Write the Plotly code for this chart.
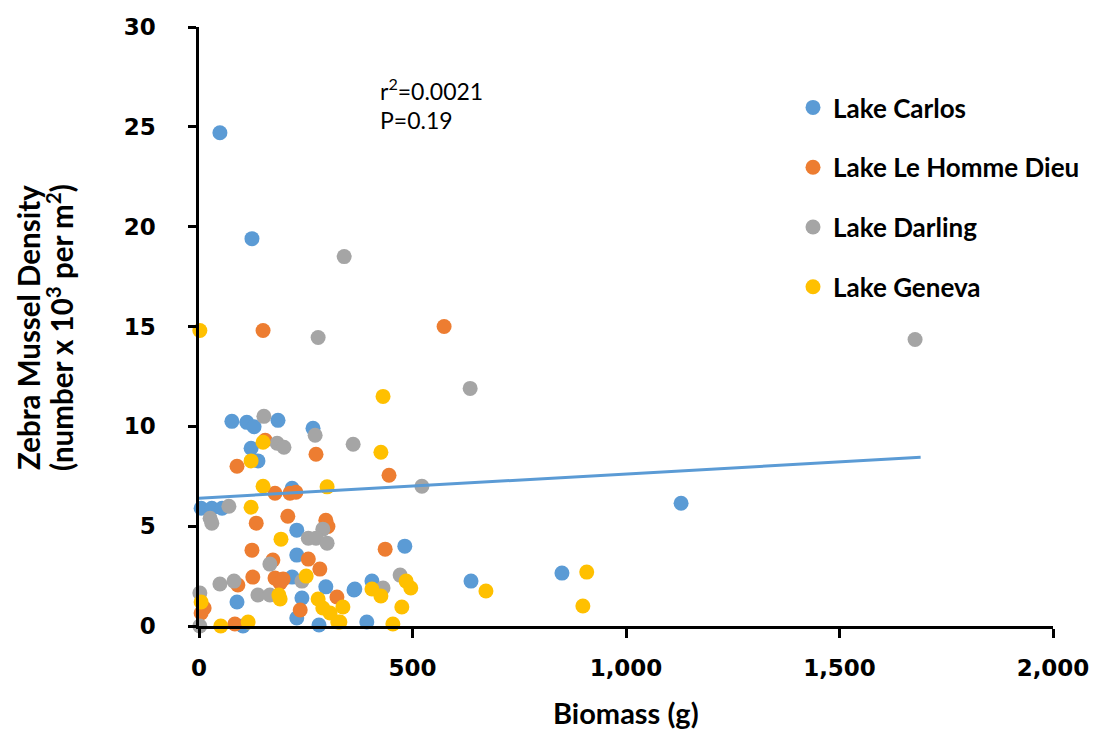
import plotly.graph_objects as go

# ---- data ----
carlos_x = [49, 124, 1129, 850, 637, 482, 5, 77, 112, 129, 185, 267, 122, 138, 218, 30, 54,
            229, 229, 218, 297, 363, 89, 241, 229, 281, 103, 405, 365, 393]
carlos_y = [24.7, 19.4, 6.15, 2.65, 2.25, 4.0, 5.9, 10.25, 10.2, 9.98, 10.3, 9.9, 8.9, 8.27, 6.9, 5.9, 5.9,
            4.8, 3.55, 2.45, 1.96, 1.8, 1.2, 1.4, 0.4, 0.05, 0.0, 2.25, 1.85, 0.2]

lehd_x = [150, 574, 155, 89, 274, 445, 178, 213, 227, 208, 134, 297, 302, 124, 256, 283, 173, 126,
          178, 197, 190, 91, 12, 5, 84, 237, 323, 436]
lehd_y = [14.8, 15.0, 9.3, 8.0, 8.6, 7.55, 6.65, 6.65, 6.7, 5.5, 5.15, 5.3, 4.98, 3.8, 3.35, 2.85, 3.3, 2.45,
          2.4, 2.35, 2.15, 2.05, 0.9, 0.65, 0.1, 0.8, 1.45, 3.85]

darling_x = [340, 279, 1677, 635, 152, 272, 361, 183, 199, 522, 70, 26, 30, 290, 256, 274, 300, 166,
             241, 49, 82, 138, 166, 2, 2, 471, 431]
darling_y = [18.5, 14.45, 14.35, 11.9, 10.5, 9.55, 9.1, 9.15, 8.95, 7.0, 6.0, 5.4, 5.15, 4.85, 4.4, 4.4, 4.15, 3.1,
             2.25, 2.1, 2.25, 1.55, 1.55, 1.65, 0.0, 2.55, 1.9]

geneva_x = [2, 431, 426, 150, 122, 300, 150, 122, 192, 251, 187, 190, 5, 51, 115, 279, 290, 307, 325,
            337, 330, 405, 426, 485, 496, 475, 454, 672, 899, 908]
geneva_y = [14.8, 11.5, 8.7, 9.2, 8.27, 6.97, 7.0, 5.95, 4.35, 2.5, 1.55, 1.35, 1.2, 0.0, 0.2, 1.35, 0.9, 0.65, 0.2,
            0.95, 0.2, 1.85, 1.5, 2.25, 1.9, 0.95, 0.1, 1.75, 1.0, 2.7]

trend_x = [0, 1690]
trend_y = [6.4, 8.45]

x_ticks = [0, 500, 1000, 1500, 2000]

series = [
    ("Lake Carlos", carlos_x, carlos_y, "#5B9BD5"),
    ("Lake Le Homme Dieu", lehd_x, lehd_y, "#ED7D31"),
    ("Lake Darling", darling_x, darling_y, "#A5A5A5"),
    ("Lake Geneva", geneva_x, geneva_y, "#FFC000"),
]

fig = go.Figure()
for i, (name, xs, ys, col) in enumerate(series):
    fig.add_trace(go.Scatter(
        x=xs, y=ys, mode="markers", name=name, legendgroup=f"g{i}",
        marker=dict(color=col, size=15, line=dict(width=0)),
        cliponaxis=False,
    ))

fig.add_trace(go.Scatter(
    x=trend_x, y=trend_y, mode="lines", showlegend=False,
    line=dict(color="#5B9BD5", width=3), cliponaxis=False,
))

label_font = "Lato, 'Open Sans', sans-serif"
tick_font = dict(family="DejaVu Sans", size=23, color="black", weight="bold")

L, R, T, B = 199, 1053, 27, 626
W, H = R - L, B - T


def px(xp):
    return (xp - L) / W


def py(yp):
    return (B - yp) / H


fig.update_layout(
    width=1093, height=731,
    margin=dict(l=L, r=1093 - R, t=T, b=731 - B, autoexpand=False),
    plot_bgcolor="white", paper_bgcolor="white",
    showlegend=True,
    legend=dict(
        x=px(793), y=py(84), xanchor="left", yanchor="top",
        font=dict(family=label_font, size=26, color="black", weight="bold"),
        tracegroupgap=23, traceorder="grouped",
        bgcolor="rgba(0,0,0,0)",
    ),
    xaxis=dict(
        range=[0, 2000], tickvals=x_ticks, tickformat=",", automargin=False,
        showgrid=False, zeroline=False, showline=True, linecolor="black", linewidth=2.5,
        ticks="outside", ticklen=9, tickwidth=2.5, tickcolor="black",
        tickfont=tick_font, ticklabelstandoff=11,
    ),
    yaxis=dict(
        range=[0, 30], dtick=5, automargin=False,
        showgrid=False, zeroline=False, showline=True, linecolor="black", linewidth=2.5,
        ticks="outside", ticklen=8, tickwidth=2.5, tickcolor="black",
        tickfont=tick_font, ticklabelstandoff=28,
    ),
    annotations=[
        dict(text="<b>Biomass (g)</b>", xref="paper", yref="paper", x=px(626), y=py(712),
             xanchor="center", yanchor="middle", showarrow=False,
             font=dict(family=label_font, size=29, color="black")),
        dict(text="<b>Zebra Mussel Density</b>",
             xref="paper", yref="paper", x=px(28), y=py(328), textangle=-90,
             xanchor="center", yanchor="middle", showarrow=False,
             font=dict(family=label_font, size=29.5, color="black")),
        dict(text="<b>(number x 10<sup>3</sup> per m<sup>2</sup>)</b>",
             xref="paper", yref="paper", x=px(60), y=py(328), textangle=-90,
             xanchor="center", yanchor="middle", showarrow=False,
             font=dict(family=label_font, size=29.5, color="black")),
        dict(text="r<sup>2</sup>=0.0021", xref="paper", yref="paper",
             x=px(378), y=py(89), xanchor="left", yanchor="middle",
             showarrow=False, font=dict(family=label_font, size=23, color="black")),
        dict(text="P=0.19", xref="paper", yref="paper",
             x=px(378), y=py(120), xanchor="left", yanchor="middle",
             showarrow=False, font=dict(family=label_font, size=23, color="black")),
    ],
)

fig.write_html("out.html")
